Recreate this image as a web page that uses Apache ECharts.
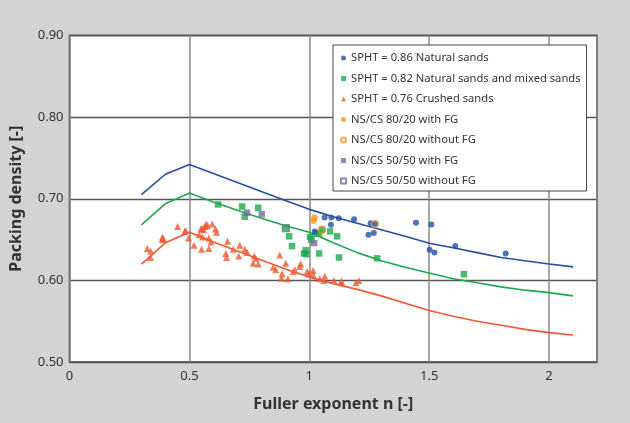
<!DOCTYPE html>
<html><head><meta charset="utf-8">
<script src="https://cdn.jsdelivr.net/npm/echarts@6/dist/echarts.min.js"></script>
<style>html,body{margin:0;padding:0;background:#d1d3d4;}#c{width:630px;height:423px;}</style>
</head><body><div id="c"></div>
<script>
const lineX = [0.3,0.4,0.5,0.6,0.7,0.8,0.9,1.0,1.1,1.2,1.3,1.4,1.5,1.6,1.7,1.8,1.9,2.0,2.1];
const blueLine  = [0.705,0.730,0.742,0.731,0.720,0.709,0.698,0.687,0.678,0.670,0.662,0.654,0.6455,0.640,0.634,0.628,0.624,0.620,0.6165];
const greenLine = [0.668,0.694,0.707,0.696,0.686,0.676,0.667,0.659,0.646,0.634,0.624,0.616,0.609,0.602,0.597,0.592,0.588,0.585,0.581];
const redLine   = [0.620,0.646,0.659,0.647,0.636,0.625,0.614,0.604,0.596,0.589,0.581,0.572,0.563,0.556,0.550,0.545,0.540,0.536,0.533];

const natural86 = [[1.023,0.660],[1.064,0.677],[1.092,0.677],[1.123,0.676],[1.090,0.668],[1.187,0.675],[1.256,0.670],[1.274,0.669],[1.247,0.656],[1.269,0.658],[1.445,0.6705],[1.509,0.6685],[1.502,0.6376],[1.522,0.634],[1.609,0.642],[1.819,0.633]];
const mixed82 = [[0.620,0.693],[0.720,0.6905],[0.731,0.678],[0.787,0.689],[0.902,0.664],[0.916,0.654],[0.928,0.642],[0.978,0.633],[0.985,0.637],[0.988,0.632],[1.003,0.653],[1.009,0.650],[1.027,0.6575],[1.041,0.657],[1.053,0.662],[1.087,0.660],[1.116,0.654],[1.041,0.633],[1.124,0.628],[1.283,0.627],[1.645,0.6076]];
const crushed76 = [[0.324,0.639],[0.338,0.636],[0.338,0.628],[0.388,0.653],[0.391,0.651],[0.387,0.650],[0.451,0.666],[0.481,0.660],[0.484,0.661],[0.497,0.652],[0.519,0.643],[0.541,0.656],[0.548,0.663],[0.553,0.664],[0.555,0.653],[0.559,0.662],[0.565,0.666],[0.570,0.669],[0.576,0.667],[0.551,0.638],[0.581,0.652],[0.581,0.639],[0.590,0.647],[0.595,0.669],[0.609,0.663],[0.613,0.659],[0.652,0.633],[0.655,0.628],[0.659,0.648],[0.683,0.638],[0.706,0.630],[0.710,0.643],[0.731,0.638],[0.741,0.634],[0.766,0.621],[0.770,0.630],[0.777,0.627],[0.787,0.620],[0.849,0.616],[0.860,0.613],[0.877,0.631],[0.887,0.608],[0.884,0.603],[0.902,0.621],[0.911,0.602],[0.933,0.611],[0.940,0.613],[0.960,0.617],[0.964,0.620],[0.991,0.611],[0.998,0.608],[1.016,0.612],[1.016,0.607],[1.044,0.602],[1.060,0.600],[1.065,0.605],[1.103,0.600],[1.134,0.599],[1.134,0.597],[1.194,0.597],[1.207,0.600]];
const ns8020FG = [[1.018,0.673],[1.022,0.677]];
const ns8020noFG = [[1.053,0.662],[1.274,0.669]];
const ns5050FG = [[0.740,0.683],[0.802,0.681],[1.020,0.6457]];
const ns5050noFG = [[0.902,0.664]];

const names = ['SPHT = 0.86 Natural sands','SPHT = 0.82 Natural sands and mixed sands','SPHT = 0.76 Crushed sands','NS/CS 80/20 with FG','NS/CS 80/20 without FG','NS/CS 50/50 with FG','NS/CS 50/50 without FG'];
const xTicks = [0,0.5,1,1.5,2];
const yTicks = [0.5,0.6,0.7,0.8,0.9];

const C_BLUE='#2350a3', C_GREEN='#19aa4b', C_RED='#ef5a33', C_ORANGE='#f7941d', C_PURPLE='#6b6fa0';
const FONT='"Noto Sans", sans-serif';
function pairs(xs, ys){ return xs.map((x,i)=>[x, ys[i]]); }
function lineSeries(name, ys, color){
  return {name, type:'line', data:pairs(lineX, ys), showSymbol:false, symbol:'none', smooth:false,
    lineStyle:{color, width:1.6}, silent:true, z:2};
}
const chart = echarts.init(document.getElementById('c'), null, {renderer:'canvas'});
chart.setOption({
  backgroundColor:'#d1d3d4',
  animation:false,
  textStyle:{fontFamily:FONT},
  grid:{left:69.5, right:33, top:35.5, bottom:61, show:true, backgroundColor:'#fff', borderColor:'#333', borderWidth:1.5},
  legend:{
    data:names.map(n=>({name:n})), orient:'vertical', left:333, top:45,
    backgroundColor:'#fff', borderColor:'#444', borderWidth:1, borderRadius:0,
    padding:[7,6,4,7], itemGap:8.5, itemWidth:5, itemHeight:5,
    textStyle:{fontFamily:FONT, fontSize:11.2, color:'#333', lineHeight:12}, selectedMode:false
  },
  xAxis:{type:'value', min:0, max:2.2, interval:0.5,
    name:'Fuller exponent n [-]', nameLocation:'middle', nameGap:34,
    nameTextStyle:{fontFamily:FONT, fontWeight:'bold', fontSize:16, color:'#333'},
    axisLine:{show:false}, axisTick:{show:false},
    axisLabel:{showMaxLabel:false, fontSize:13, color:'#333', margin:8, formatter:v=>xTicks.includes(v)?String(v):''},
    splitLine:{show:true, lineStyle:{color:'#8a8a8a', width:1.5}}},
  yAxis:{type:'value', min:0.5, max:0.9, interval:0.1,
    name:'Packing density [-]', nameLocation:'middle', nameGap:45,
    nameTextStyle:{fontFamily:FONT, fontWeight:'bold', fontSize:16, color:'#333'},
    axisLine:{show:false}, axisTick:{show:false},
    axisLabel:{fontSize:13, color:'#333', margin:6, formatter:v=>{const t=yTicks.find(k=>Math.abs(k-v)<1e-9);return t!==undefined?t.toFixed(2):'';}},
    splitLine:{show:true, lineStyle:{color:'#555', width:1.3}}},
  series:[
    lineSeries('fitBlue', blueLine, C_BLUE),
    lineSeries('fitGreen', greenLine, C_GREEN),
    lineSeries('fitRed', redLine, C_RED),
    {name:names[2], type:'scatter', data:crushed76, symbol:'triangle', symbolSize:7, itemStyle:{color:C_RED}, z:3},
    {name:names[1], type:'scatter', data:mixed82, symbol:'rect', symbolSize:6.5, itemStyle:{color:C_GREEN}, z:3},
    {name:names[6], type:'scatter', data:ns5050noFG, symbol:'rect', symbolSize:7, itemStyle:{color:'rgba(0,0,0,0)', borderColor:C_PURPLE, borderWidth:1.2}, z:4},
    {name:names[5], type:'scatter', data:ns5050FG, symbol:'rect', symbolSize:6.5, itemStyle:{color:C_PURPLE}, z:4},
    {name:names[0], type:'scatter', data:natural86, symbol:'circle', symbolSize:6, itemStyle:{color:C_BLUE}, z:4},
    {name:names[3], type:'scatter', data:ns8020FG, symbol:'circle', symbolSize:6.5, itemStyle:{color:C_ORANGE}, z:5},
    {name:names[4], type:'scatter', data:ns8020noFG, symbol:'circle', symbolSize:7, itemStyle:{color:'rgba(0,0,0,0)', borderColor:C_ORANGE, borderWidth:1.5}, z:5}
  ]
});
</script></body></html>
